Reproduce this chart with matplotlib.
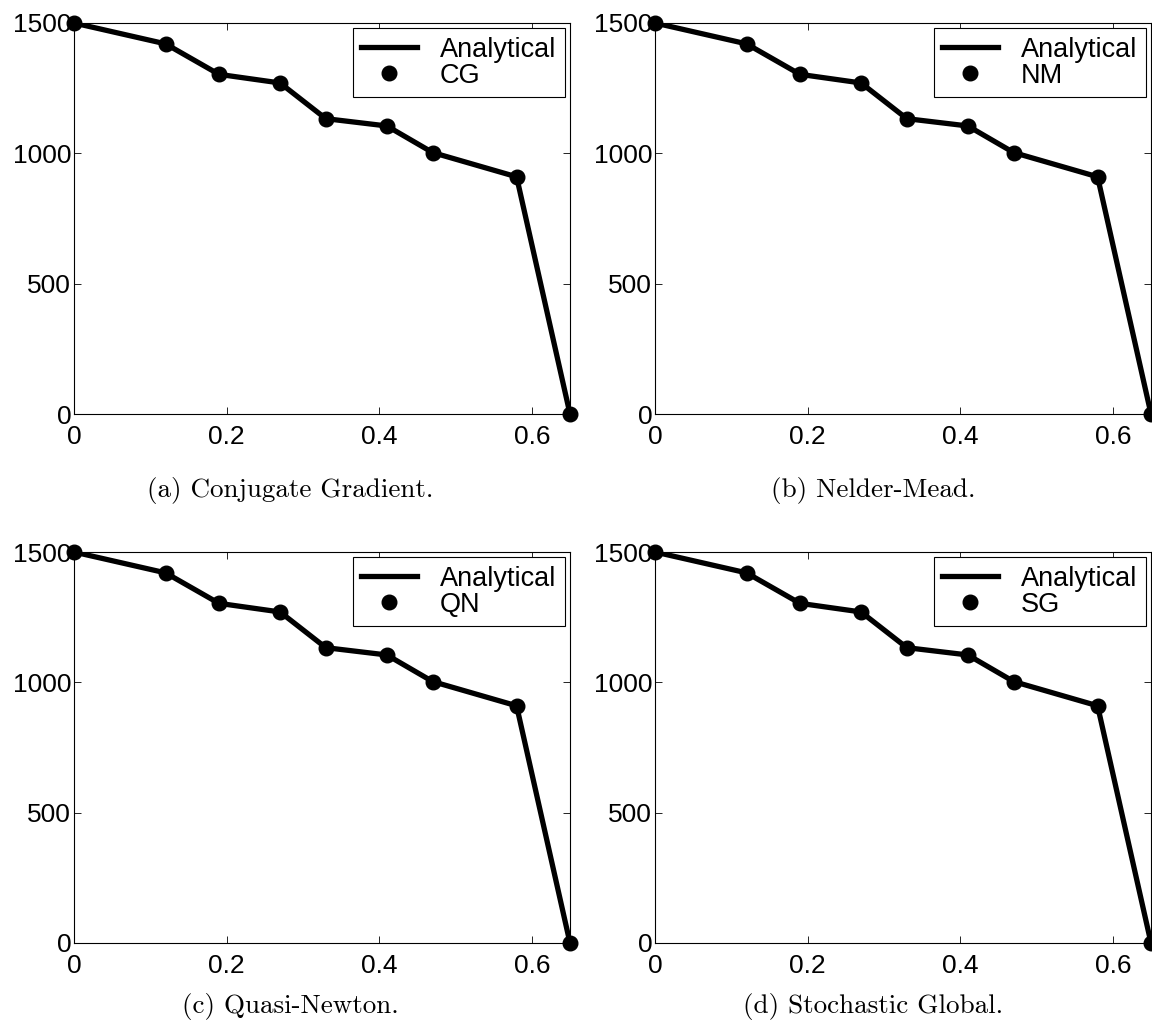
"""Analytical solution vs. four optimiser estimates (2 x 2 panels)."""
import matplotlib
matplotlib.use("Agg")
import matplotlib.pyplot as plt

plt.rcParams["font.family"] = ["Liberation Sans", "DejaVu Sans"]
plt.rcParams["font.size"] = 19
plt.rcParams["xtick.direction"] = "in"
plt.rcParams["ytick.direction"] = "in"
plt.rcParams["xtick.top"] = True
plt.rcParams["ytick.right"] = True
plt.rcParams["axes.linewidth"] = 0.8

# ---- data ----
X_VALUES = [0.0, 0.12, 0.19, 0.27, 0.33, 0.41, 0.47, 0.58, 0.65]
ANALYTICAL = [1500, 1420, 1303, 1270, 1133, 1105, 1003, 910, 0]
CG = [1500, 1420, 1303, 1270, 1133, 1105, 1003, 910, 0]
NM = [1500, 1420, 1303, 1270, 1133, 1105, 1003, 910, 0]
QN = [1500, 1420, 1303, 1270, 1133, 1105, 1003, 910, 0]
SG = [1500, 1420, 1303, 1270, 1133, 1105, 1003, 910, 0]

METHOD_LABELS = ["CG", "NM", "QN", "SG"]
METHOD_VALUES = [CG, NM, QN, SG]
CAPTIONS = ["(a) Conjugate Gradient.", "(b) Nelder-Mead.",
            "(c) Quasi-Newton.", "(d) Stochastic Global."]

X_TICKS = [0, 0.2, 0.4, 0.6]
X_TICK_LABELS = ["0", "0.2", "0.4", "0.6"]
Y_TICKS = [0, 500, 1000, 1500]

W, H = 1152, 1030
fig = plt.figure(figsize=(W / 100, H / 100), dpi=100)

# axes rectangles in pixels: (left, top, right, bottom)
boxes = [(74, 23, 570, 414), (655, 23, 1151, 414),
         (74, 552, 570, 943), (655, 552, 1151, 943)]
caption_pos = [(290, 490), (873, 490), (290, 1006), (873, 1006)]

for i, (l, t, r, b) in enumerate(boxes):
    ax = fig.add_axes([l / W, 1 - b / H, (r - l) / W, (b - t) / H])
    ax.plot(X_VALUES, ANALYTICAL, color="black", lw=3.8,
            label="Analytical", zorder=2)
    ax.plot(X_VALUES, METHOD_VALUES[i], linestyle="none", marker="o",
            markersize=10.5, color="black", label=METHOD_LABELS[i],
            clip_on=False, zorder=3)
    ax.set_xlim(0, 0.65)
    ax.set_ylim(0, 1500)
    ax.set_xticks(X_TICKS)
    ax.set_xticklabels(X_TICK_LABELS)
    ax.set_yticks(Y_TICKS)
    ax.tick_params(axis="x", length=5, width=0.6, pad=8)
    ax.tick_params(axis="y", length=5, width=0.6, pad=2)
    leg = ax.legend(loc="upper right", fancybox=False, framealpha=1,
                    edgecolor="black", borderaxespad=0.2,
                    handlelength=2.05, handletextpad=0.85,
                    borderpad=0.31, labelspacing=0.0, fontsize=19.5)
    leg.get_frame().set_linewidth(0.8)
    cx, cy = caption_pos[i]
    fig.text(cx / W, 1 - cy / H, CAPTIONS[i], ha="center", va="center",
             family="cmr10", fontsize=19.5)

fig.savefig("out.png", dpi=100)
